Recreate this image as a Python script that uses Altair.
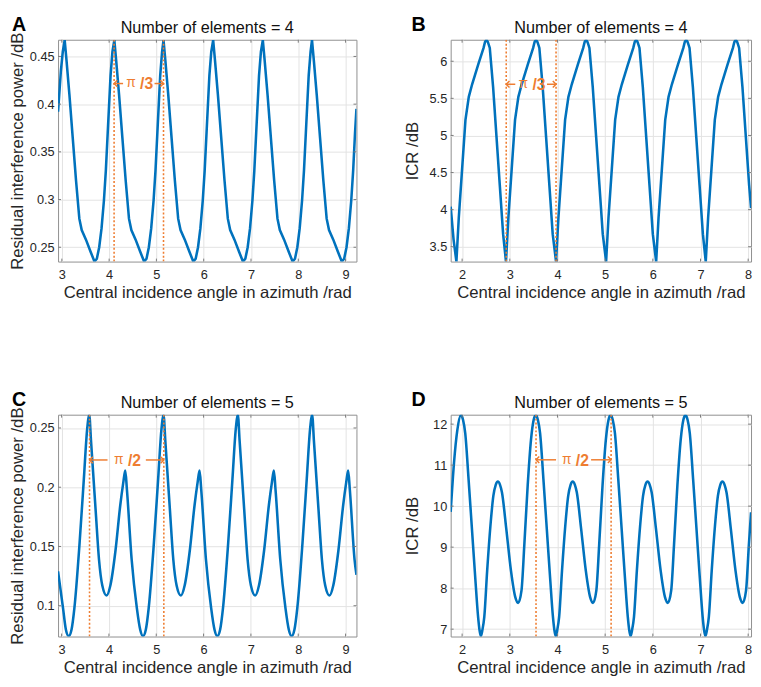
import altair as alt
import pandas as pd

BLUE = "#0072BD"
ORANGE = "#EE7D31"
GRID = "#E2E2E2"
TXT = "#262626"
TICK = "#7A7A7A"
FONT = "Liberation Sans"

# ---------------- Panel A : residual interference power, N = 4 ----------------
X_A = [2.92, 2.98, 3.02,
       3.06, 3.10, 3.16, 3.23, 3.30, 3.37, 3.42, 3.51, 3.61, 3.69, 3.74, 3.79, 3.84, 3.89, 3.93, 3.97, 4.03, 4.07,
       4.11, 4.15, 4.21, 4.28, 4.35, 4.42, 4.47, 4.56, 4.66, 4.74, 4.79, 4.84, 4.89, 4.94, 4.98, 5.02, 5.08, 5.12,
       5.15, 5.19, 5.25, 5.32, 5.39, 5.46, 5.51, 5.60, 5.70, 5.78, 5.83, 5.88, 5.93, 5.98, 6.02, 6.06, 6.12, 6.16,
       6.20, 6.24, 6.30, 6.37, 6.44, 6.51, 6.56, 6.65, 6.75, 6.83, 6.88, 6.93, 6.98, 7.03, 7.07, 7.11, 7.17, 7.21,
       7.25, 7.29, 7.35, 7.42, 7.49, 7.56, 7.61, 7.70, 7.80, 7.88, 7.93, 7.98, 8.03, 8.08, 8.12, 8.16, 8.22, 8.26,
       8.29, 8.33, 8.39, 8.46, 8.53, 8.60, 8.65, 8.74, 8.84, 8.92, 8.97, 9.02, 9.07, 9.12, 9.16, 9.20,
       9.23]
Y_A = [0.392, 0.435, 0.455,
       0.467, 0.445, 0.410, 0.365, 0.320, 0.280, 0.268, 0.258, 0.245, 0.235, 0.238, 0.250, 0.270, 0.299, 0.330, 0.370, 0.430, 0.455,
       0.467, 0.445, 0.410, 0.365, 0.320, 0.280, 0.268, 0.258, 0.245, 0.235, 0.238, 0.250, 0.270, 0.299, 0.330, 0.370, 0.430, 0.455,
       0.467, 0.445, 0.410, 0.365, 0.320, 0.280, 0.268, 0.258, 0.245, 0.235, 0.238, 0.250, 0.270, 0.299, 0.330, 0.370, 0.430, 0.455,
       0.467, 0.445, 0.410, 0.365, 0.320, 0.280, 0.268, 0.258, 0.245, 0.235, 0.238, 0.250, 0.270, 0.299, 0.330, 0.370, 0.430, 0.455,
       0.467, 0.445, 0.410, 0.365, 0.320, 0.280, 0.268, 0.258, 0.245, 0.235, 0.238, 0.250, 0.270, 0.299, 0.330, 0.370, 0.430, 0.455,
       0.467, 0.445, 0.410, 0.365, 0.320, 0.280, 0.268, 0.258, 0.245, 0.235, 0.238, 0.250, 0.270, 0.299, 0.330, 0.370,
       0.395]

# ---------------- Panel B : ICR, N = 4 ----------------
X_B = [1.76, 1.82,
       1.88, 1.93, 2.00, 2.07, 2.14, 2.21, 2.34, 2.45, 2.48, 2.51, 2.54, 2.58, 2.65, 2.72, 2.79, 2.86,
       2.92, 2.97, 3.04, 3.11, 3.18, 3.25, 3.38, 3.49, 3.52, 3.55, 3.58, 3.62, 3.69, 3.76, 3.83, 3.90,
       3.97, 4.02, 4.09, 4.16, 4.23, 4.30, 4.43, 4.54, 4.57, 4.60, 4.63, 4.67, 4.74, 4.81, 4.88, 4.95,
       5.02, 5.07, 5.14, 5.21, 5.28, 5.35, 5.48, 5.59, 5.62, 5.65, 5.68, 5.72, 5.79, 5.86, 5.93, 6.00,
       6.07, 6.12, 6.19, 6.26, 6.33, 6.40, 6.53, 6.64, 6.67, 6.70, 6.73, 6.77, 6.84, 6.91, 6.98, 7.05,
       7.11, 7.16, 7.23, 7.30, 7.37, 7.44, 7.57, 7.68, 7.71, 7.74, 7.77, 7.81, 7.88, 7.95, 8.02,
       8.06]
Y_B = [4.04, 3.60,
       3.30, 3.89, 4.55, 5.21, 5.52, 5.69, 5.96, 6.18, 6.26, 6.29, 6.26, 6.18, 5.65, 4.99, 4.33, 3.67,
       3.30, 3.89, 4.55, 5.21, 5.52, 5.69, 5.96, 6.18, 6.26, 6.29, 6.26, 6.18, 5.65, 4.99, 4.33, 3.67,
       3.30, 3.89, 4.55, 5.21, 5.52, 5.69, 5.96, 6.18, 6.26, 6.29, 6.26, 6.18, 5.65, 4.99, 4.33, 3.67,
       3.30, 3.89, 4.55, 5.21, 5.52, 5.69, 5.96, 6.18, 6.26, 6.29, 6.26, 6.18, 5.65, 4.99, 4.33, 3.67,
       3.30, 3.89, 4.55, 5.21, 5.52, 5.69, 5.96, 6.18, 6.26, 6.29, 6.26, 6.18, 5.65, 4.99, 4.33, 3.67,
       3.30, 3.89, 4.55, 5.21, 5.52, 5.69, 5.96, 6.18, 6.26, 6.29, 6.26, 6.18, 5.65, 4.99, 4.33,
       4.02]

# ---------------- Panel C : residual interference power, N = 5 ----------------
X_C = [2.925, 3.03, 3.09,
       3.15, 3.21, 3.27, 3.38, 3.47, 3.54, 3.585, 3.62, 3.72, 3.79, 3.86, 3.95, 4.03, 4.14, 4.24, 4.30, 4.345, 4.38, 4.48, 4.59, 4.66,
       4.72, 4.78, 4.84, 4.95, 5.04, 5.11, 5.155, 5.19, 5.29, 5.36, 5.43, 5.52, 5.60, 5.71, 5.81, 5.87, 5.915, 5.95, 6.05, 6.16, 6.23,
       6.29, 6.35, 6.41, 6.52, 6.61, 6.68, 6.725, 6.76, 6.86, 6.93, 7.00, 7.09, 7.17, 7.28, 7.38, 7.44, 7.485, 7.52, 7.62, 7.73, 7.80,
       7.86, 7.92, 7.98, 8.09, 8.18, 8.25, 8.295, 8.33, 8.43, 8.50, 8.57, 8.66, 8.74, 8.85, 8.95, 9.01, 9.055, 9.09, 9.19,
       9.23]
Y_C = [0.129, 0.098, 0.080,
       0.0745, 0.080, 0.098, 0.153, 0.207, 0.249, 0.261, 0.240, 0.180, 0.139, 0.117, 0.1086, 0.117, 0.147, 0.185, 0.203, 0.214, 0.198, 0.139, 0.098, 0.080,
       0.0745, 0.080, 0.098, 0.153, 0.207, 0.249, 0.261, 0.240, 0.180, 0.139, 0.117, 0.1086, 0.117, 0.147, 0.185, 0.203, 0.214, 0.198, 0.139, 0.098, 0.080,
       0.0745, 0.080, 0.098, 0.153, 0.207, 0.249, 0.261, 0.240, 0.180, 0.139, 0.117, 0.1086, 0.117, 0.147, 0.185, 0.203, 0.214, 0.198, 0.139, 0.098, 0.080,
       0.0745, 0.080, 0.098, 0.153, 0.207, 0.249, 0.261, 0.240, 0.180, 0.139, 0.117, 0.1086, 0.117, 0.147, 0.185, 0.203, 0.214, 0.198, 0.139,
       0.126]

# ---------------- Panel D : ICR, N = 5 ----------------
X_D = [1.76, 1.83, 1.90,
       1.975, 2.02, 2.065, 2.135, 2.205, 2.275, 2.335, 2.365, 2.395, 2.425, 2.465, 2.525, 2.595, 2.655, 2.705, 2.75, 2.795, 2.835, 2.925, 3.025, 3.115, 3.175, 3.245, 3.305, 3.375, 3.445, 3.50,
       3.545, 3.59, 3.635, 3.705, 3.775, 3.845, 3.905, 3.935, 3.965, 3.995, 4.035, 4.095, 4.165, 4.225, 4.275, 4.32, 4.365, 4.405, 4.495, 4.595, 4.685, 4.745, 4.815, 4.875, 4.945, 5.015, 5.07,
       5.115, 5.16, 5.205, 5.275, 5.345, 5.415, 5.475, 5.505, 5.535, 5.565, 5.605, 5.665, 5.735, 5.795, 5.845, 5.89, 5.935, 5.975, 6.065, 6.165, 6.255, 6.315, 6.385, 6.445, 6.515, 6.585, 6.64,
       6.685, 6.73, 6.775, 6.845, 6.915, 6.985, 7.045, 7.075, 7.105, 7.135, 7.175, 7.235, 7.305, 7.365, 7.415, 7.46, 7.505, 7.545, 7.635, 7.735, 7.825, 7.885, 7.955, 8.015,
       8.06]
Y_D = [9.86, 11.06, 11.86,
       12.22, 12.10, 11.78, 10.66, 9.46, 8.26, 7.30, 6.98, 6.83, 6.98, 7.30, 8.42, 9.54, 10.25, 10.52, 10.60, 10.52, 10.34, 9.46, 8.42, 7.78, 7.64, 7.94, 9.06, 10.50, 11.62, 12.10,
       12.22, 12.10, 11.78, 10.66, 9.46, 8.26, 7.30, 6.98, 6.83, 6.98, 7.30, 8.42, 9.54, 10.25, 10.52, 10.60, 10.52, 10.34, 9.46, 8.42, 7.78, 7.64, 7.94, 9.06, 10.50, 11.62, 12.10,
       12.22, 12.10, 11.78, 10.66, 9.46, 8.26, 7.30, 6.98, 6.83, 6.98, 7.30, 8.42, 9.54, 10.25, 10.52, 10.60, 10.52, 10.34, 9.46, 8.42, 7.78, 7.64, 7.94, 9.06, 10.50, 11.62, 12.10,
       12.22, 12.10, 11.78, 10.66, 9.46, 8.26, 7.30, 6.98, 6.83, 6.98, 7.30, 8.42, 9.54, 10.25, 10.52, 10.60, 10.52, 10.34, 9.46, 8.42, 7.78, 7.64, 7.94, 9.06,
       9.85]

for _xs, _ys in [(X_A, Y_A), (X_B, Y_B), (X_C, Y_C), (X_D, Y_D)]:
    assert len(_xs) == len(_ys)

X_TICKS_AC = [3, 4, 5, 6, 7, 8, 9]
X_TICKS_BD = [2, 3, 4, 5, 6, 7, 8]
Y_TICKS_A = [0.25, 0.3, 0.35, 0.4, 0.45]
Y_TICKS_B = [3.5, 4, 4.5, 5, 5.5, 6]
Y_TICKS_C = [0.1, 0.15, 0.2, 0.25]
Y_TICKS_D = [7, 8, 9, 10, 11, 12]

XTITLE = "Central incidence angle in azimuth /rad"
H = 226
TL = 3  # inward tick length (px)


def panel(xs, ys, xdom, ydom, xticks, yticks, yfmt, ytitle, ttl, letter,
          vlines, lab_y, frac, shaft, interp, yext, ytpad, letter_x, pi_dx, fr_dx, W):
    xs_ = alt.Scale(domain=xdom, nice=False, zero=False)
    ys_ = alt.Scale(domain=ydom, nice=False, zero=False)
    xax = alt.Axis(values=xticks, format="d", title=XTITLE, labelFontSize=13,
                   titleFontSize=17, titleFontWeight="normal", labelPadding=7,
                   titlePadding=4, ticks=False, domain=False, grid=True,
                   gridColor=GRID, labelColor=TXT, titleColor=TXT)
    yax = alt.Axis(values=yticks, format=yfmt, title=ytitle, labelFontSize=13,
                   titleFontSize=17, titleFontWeight="normal", labelPadding=4,
                   titlePadding=ytpad, ticks=False, domain=False, grid=True,
                   gridColor=GRID, labelColor=TXT, titleColor=TXT,
                   minExtent=yext, maxExtent=yext)

    def X():
        return alt.X("x:Q", scale=xs_, axis=xax)

    def Y():
        return alt.Y("y:Q", scale=ys_, axis=yax)

    line = alt.Chart(pd.DataFrame({"x": xs, "y": ys})).mark_line(
        color=BLUE, strokeWidth=2.6, clip=True, interpolate=interp
    ).encode(x=X(), y=Y())

    xt = pd.DataFrame({"x": xticks})
    yt = pd.DataFrame({"y": yticks})
    tick_b = alt.Chart(xt).mark_rule(color=TICK, strokeWidth=1).encode(
        x=X(), y=alt.value(H), y2=alt.value(H - TL))
    tick_t = alt.Chart(xt).mark_rule(color=TICK, strokeWidth=1).encode(
        x=X(), y=alt.value(0), y2=alt.value(TL))
    tick_l = alt.Chart(yt).mark_rule(color=TICK, strokeWidth=1).encode(
        y=Y(), x=alt.value(0), x2=alt.value(TL))
    tick_r = alt.Chart(yt).mark_rule(color=TICK, strokeWidth=1).encode(
        y=Y(), x=alt.value(W), x2=alt.value(W - TL))

    rules = alt.Chart(pd.DataFrame({"x": vlines})).mark_rule(
        color=ORANGE, strokeWidth=1.6, strokeDash=[2, 2], clip=True
    ).encode(x=X())

    x1, x2 = vlines
    segs = alt.Chart(pd.DataFrame({"x": [x1, x2 - shaft], "x2": [x1 + shaft, x2],
                                   "y": [lab_y, lab_y]})).mark_rule(
        color=ORANGE, strokeWidth=1.5
    ).encode(x=X(), x2="x2:Q", y=Y())

    left_head = alt.Chart(pd.DataFrame({"x": [x1], "y": [lab_y]})).mark_point(
        shape="M1,-1L0,0L1,1", filled=False, stroke=ORANGE, strokeWidth=1.5,
        size=44, opacity=1
    ).encode(x=X(), y=Y())
    right_head = alt.Chart(pd.DataFrame({"x": [x2], "y": [lab_y]})).mark_point(
        shape="M-1,-1L0,0L-1,1", filled=False, stroke=ORANGE, strokeWidth=1.5,
        size=44, opacity=1
    ).encode(x=X(), y=Y())

    mid = (x1 + x2) / 2
    lab_df = pd.DataFrame({"x": [mid], "y": [lab_y], "pi": ["π"], "fr": [frac]})
    pi_t = alt.Chart(lab_df).mark_text(
        color=ORANGE, fontSize=14, dx=pi_dx, baseline="middle", align="center", font=FONT
    ).encode(x=X(), y=Y(), text="pi:N")
    fr_t = alt.Chart(lab_df).mark_text(
        color=ORANGE, fontSize=16, fontWeight="bold", dx=fr_dx, dy=1,
        baseline="middle", align="center", font=FONT
    ).encode(x=X(), y=Y(), text="fr:N")

    let = alt.Chart(pd.DataFrame({"t": [letter]})).mark_text(
        align="left", baseline="top", fontSize=20, fontWeight="bold",
        color="#000000", font=FONT
    ).encode(x=alt.value(letter_x), y=alt.value(-25), text="t:N")

    head = alt.Chart(pd.DataFrame({"t": [ttl]})).mark_text(
        align="center", baseline="alphabetic", fontSize=16.5,
        color="#111111", font=FONT
    ).encode(x=alt.value(W / 2), y=alt.value(-7), text="t:N")

    return alt.layer(line, tick_b, tick_t, tick_l, tick_r, rules, segs, left_head,
                     right_head, pi_t, fr_t, let, head).properties(width=W, height=H)


pA = panel(X_A, Y_A, [2.92, 9.23], [0.2350, 0.4675], X_TICKS_AC, Y_TICKS_A, ".2~f",
           "Residual interference power /dB", "Number of elements = 4", "A",
           [4.105, 5.15], 0.4216, "/3", 0.19, "linear", 29, 3, -47, -8, 8, 304)
pB = panel(X_B, Y_B, [1.76, 8.06], [3.30, 6.29], X_TICKS_BD, Y_TICKS_B, ".1~f",
           "ICR /dB", "Number of elements = 4", "B",
           [2.925, 3.97], 5.69, "/3", 0.19, "linear", 24, 6, -40, -8, 8, 306)
pC = panel(X_C, Y_C, [2.925, 9.23], [0.0740, 0.2612], X_TICKS_AC, Y_TICKS_C, ".2~f",
           "Residual interference power /dB", "Number of elements = 5", "C",
           [3.59, 5.16], 0.223, "/2", 0.38, "monotone", 29, 3, -47, -8, 8, 304)
pD = panel(X_D, Y_D, [1.76, 8.06], [6.82, 12.23], X_TICKS_BD, Y_TICKS_D, "d",
           "ICR /dB", "Number of elements = 5", "D",
           [3.55, 5.125], 11.13, "/2", 0.42, "monotone", 24, 6, -40, -7, 9, 306)

chart = alt.concat(pA, pB, pC, pD, columns=2, spacing={"row": 89, "column": 46}).properties(
    padding=0
).configure(font=FONT).configure_view(stroke="#8F8F8F", strokeWidth=1)

chart.save("out.html", embed_options={"renderer": "svg", "actions": False})
